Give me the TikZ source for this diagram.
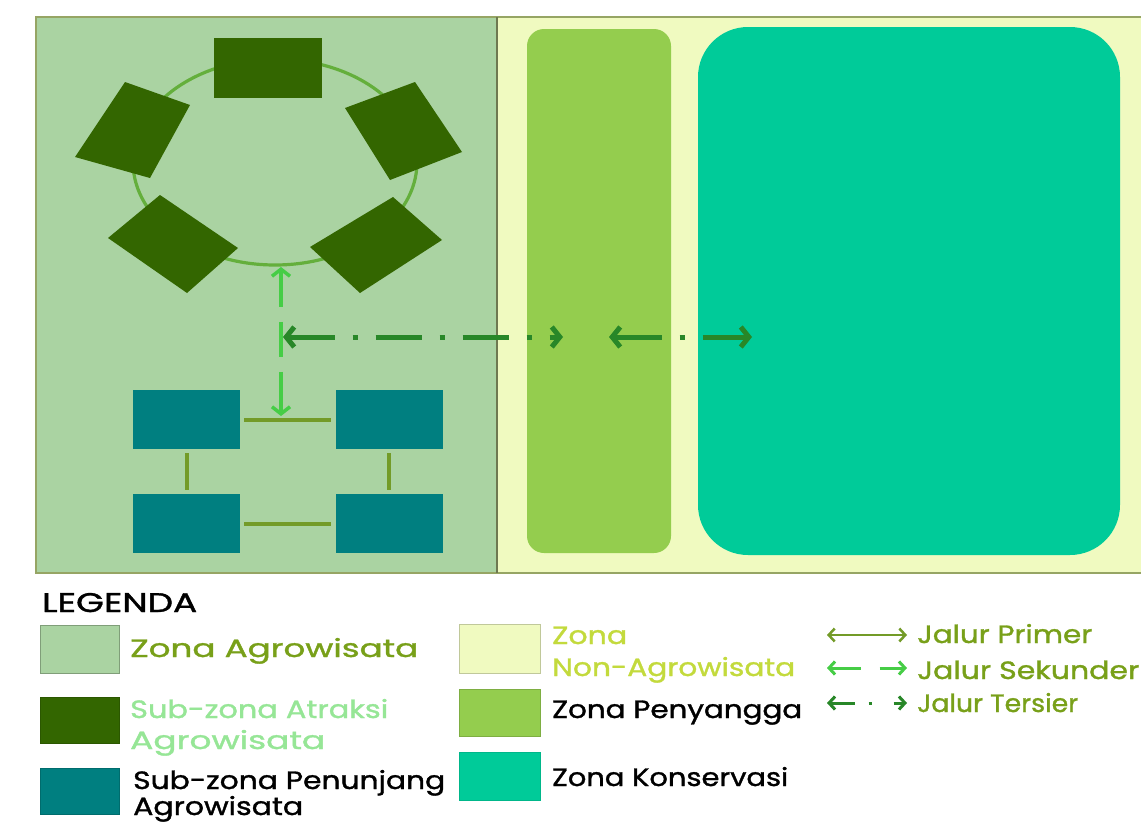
\documentclass[tikz,border=0pt]{standalone}
\usepackage{fontspec}
\setmainfont{Poppins}
\newfontfamily\medfont{Poppins}[FakeBold=1.2]
\usetikzlibrary{arrows.meta,shapes.geometric}
\definecolor{agro}{RGB}{170,211,162}
\definecolor{nonagro}{RGB}{240,250,192}
\definecolor{buffer}{RGB}{148,205,78}
\definecolor{konserv}{RGB}{0,203,153}
\definecolor{atraksi}{RGB}{51,102,0}
\definecolor{penunjang}{RGB}{0,127,128}
\definecolor{ringc}{RGB}{100,175,60}
\definecolor{primc}{RGB}{115,155,40}
\definecolor{sekc}{RGB}{70,205,70}
\definecolor{terc}{RGB}{40,135,40}
\definecolor{olivetext}{RGB}{120,160,25}
\definecolor{limetext}{RGB}{195,218,60}
\definecolor{lighttext}{RGB}{150,230,150}
\definecolor{framec}{RGB}{150,165,100}
\definecolor{dividerc}{RGB}{110,120,80}
\newcommand{\fitw}[2]{\resizebox{#1}{\height}{\medfont #2}}
\tikzset{
  bigbarb/.tip={Straight Barb[length=8pt,width=20pt]},
  midbarb/.tip={Straight Barb[length=7pt,width=18pt]},
  smbarb/.tip={Straight Barb[length=6pt,width=13pt]},
}
\begin{document}
\begin{tikzpicture}[x=1pt,y=-1pt,
  txt/.style={anchor=base west, inner sep=0pt, font=\fontsize{25}{30}\selectfont},
  tealbox/.style={fill=penunjang, minimum width=107pt, minimum height=59pt, inner sep=0pt, draw=none},
  primline/.style={primc, line width=4pt, shorten >=4pt, shorten <=4pt},
  swatch/.style={line width=1pt},
]
\useasboundingbox (0,0) rectangle (1141,822);
\fill[white] (0,0) rectangle (1141,822);

% panels
\fill[agro] (36,17) rectangle (497,573);
\fill[nonagro] (497,17) rectangle (1141,573);
\draw[framec, line width=1.5pt] (1141,17) -- (36,17) -- (36,573) -- (1141,573);
\draw[dividerc, line width=1.8pt] (497,17) -- (497,573);

% buffer and conservation zones
\fill[buffer, rounded corners=17pt] (527,29) rectangle (671,553);
\fill[konserv, rounded corners=50pt] (698,27) rectangle (1120,555);

% ring of attraction sub-zones
\node[draw=ringc, line width=3.2pt, ellipse, minimum width=284pt, minimum height=206pt, inner sep=0pt] (ring) at (275,162) {};
\node[fill=atraksi, minimum width=108pt, minimum height=60pt, inner sep=0pt] (aTop) at (268,68) {};
\fill[atraksi] (125,82) -- (190,105) -- (150,178) -- (75,157) -- cycle;
\fill[atraksi] (415,82) -- (462,152) -- (390,180) -- (345,108) -- cycle;
\fill[atraksi] (160,195) -- (238,248) -- (187,293) -- (108,238) -- cycle;
\fill[atraksi] (393,197) -- (442,240) -- (360,293) -- (310,247) -- cycle;

% supporting sub-zones
\node[tealbox] (pTL) at (186.5,419.5) {};
\node[tealbox] (pTR) at (389,419.5) {};
\node[tealbox] (pBL) at (186.5,523.5) {};
\node[tealbox] (pBR) at (389,523.5) {};
\draw[primline] (pTL.east) -- (pTR.west);
\draw[primline] (pBL.east) -- (pBR.west);
\draw[primline] (pTL.south) -- (pBL.north);
\draw[primline] (pTR.south) -- (pBR.north);

% secondary path (vertical)
\coordinate (vtop) at (281,267);
\coordinate (vbot) at (281,416);
\draw[sekc, line width=3.5pt, dash pattern=on 36pt off 15pt on 35pt off 15pt on 80pt, {midbarb}-{midbarb}] (vtop) -- (vbot);

% tertiary paths (horizontal)
\coordinate (hub) at (283,337);
\coordinate (t1e) at (563,337);
\coordinate (t2s) at (609,337);
\coordinate (t2e) at (752,337);
\draw[terc, line width=5pt, dash pattern=on 46pt off 18pt on 5pt off 18pt, {bigbarb}-{bigbarb}] (hub) -- (t1e);
\draw[terc, line width=5pt, dash pattern=on 47pt off 18pt on 5pt off 18pt on 80pt, {bigbarb}-{bigbarb}] (t2s) -- (t2e);

% ---------------- legend ----------------
\node[txt, font=\fontsize{27}{30}\selectfont, text=black] (legTitle) at (42,612) {\fitw{155pt}{LEGENDA}};

\fill[agro, draw=agro!75!black, swatch] (40,625) rectangle (119,673);
\fill[atraksi, draw=atraksi!85!black, swatch] (40,697) rectangle (119,743);
\fill[penunjang, draw=penunjang!85!black, swatch] (40,768) rectangle (119,814);
\fill[nonagro, draw=nonagro!80!black, swatch] (459,624) rectangle (540,673);
\fill[buffer, draw=buffer!85!black, swatch] (459,689) rectangle (540,736);
\fill[konserv, draw=konserv!90!black, swatch] (459,752) rectangle (540,800);

\node[txt, text=olivetext] (lAgro) at (130,657) {\fitw{288pt}{Zona Agrowisata}};
\node[txt, text=lighttext] (lAtr1) at (130,718) {\fitw{258pt}{Sub-zona Atraksi}};
\node[txt, text=lighttext] (lAtr2) at (130,749) {\fitw{195pt}{Agrowisata}};
\node[txt, text=black] (lPen1) at (133,789) {\fitw{312pt}{Sub-zona Penunjang}};
\node[txt, text=black] (lPen2) at (133,815) {\fitw{170pt}{Agrowisata}};
\node[txt, text=limetext] (lNon1) at (552,644) {\fitw{75pt}{Zona}};
\node[txt, text=limetext] (lNon2) at (552,676) {\fitw{243pt}{Non-Agrowisata}};
\node[txt, text=black] (lBuf) at (552,718) {\fitw{250pt}{Zona Penyangga}};
\node[txt, text=black] (lKon) at (552,786) {\fitw{236pt}{Zona Konservasi}};

\coordinate (lp1) at (827,635);
\coordinate (lp2) at (907,635);
\coordinate (ls1) at (827,668);
\coordinate (ls2) at (907,668);
\coordinate (lt1) at (827,703);
\coordinate (lt2) at (907,703);
\draw[primc, line width=2.5pt, {smbarb}-{smbarb}] (lp1) -- (lp2);
\draw[sekc, line width=3pt, dash pattern=on 30pt off 19pt on 60pt, {smbarb}-{smbarb}] (ls1) -- (ls2);
\draw[terc, line width=3pt, dash pattern=on 24pt off 14pt on 3pt off 22pt on 40pt, {smbarb}-{smbarb}] (lt1) -- (lt2);

\node[txt, text=olivetext] (jPrim) at (917,643) {\fitw{175pt}{Jalur Primer}};
\node[txt, text=olivetext] (jSek) at (917,679) {\fitw{222pt}{Jalur Sekunder}};
\node[txt, text=olivetext] (jTer) at (917,712) {\fitw{161pt}{Jalur Tersier}};
\end{tikzpicture}
\end{document}
